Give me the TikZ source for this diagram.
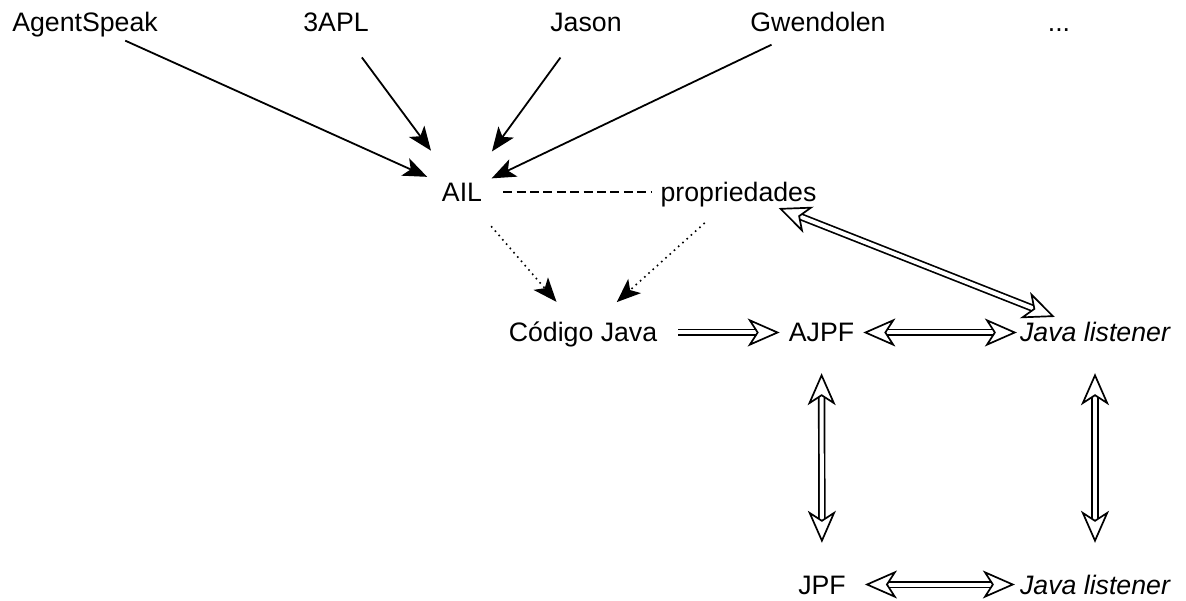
\documentclass[tikz,border=0pt]{standalone}
\usepackage{fontspec}
\setmainfont{Liberation Sans}
\usetikzlibrary{arrows.meta}

\tikzset{
  hollowtip/.tip={Stealth[length=32pt,width=28pt,inset=9pt,fill=white,line width=1.7pt]},
  blacktip/.tip={Stealth[length=24pt,width=19pt,inset=6pt]}
}

\begin{document}
\begin{tikzpicture}[x=1pt,y=-1pt,
  lbl/.style={inner sep=0pt,text height=19pt,text depth=0pt,anchor=base,
    font=\fontsize{26.7}{32}\selectfont},
  blk/.style={line width=1.8pt,-{blacktip}},
  dashln/.style={line width=2pt,dash pattern=on 9pt off 4.4pt},
  dotln/.style={line width=1.6pt,dash pattern=on 1.6pt off 4.1pt,-{blacktip[sep=0pt]}},
  dbl/.style={line width=1.7pt,double=white,double distance=4pt,-{hollowtip}},
  dblboth/.style={line width=1.7pt,double=white,double distance=4pt,{hollowtip}-{hollowtip}}
]
\useasboundingbox (0,0) rectangle (1186,601);

% source languages
\node[lbl] (agentspeak) at (85,32) {AgentSpeak};
\node[lbl] (threeapl)   at (336,32) {3APL};
\node[lbl] (jason)      at (586,32) {Jason};
\node[lbl] (gwendolen)  at (818,32) {Gwendolen};
\node[lbl] (more)       at (1059,32) {...};

% intermediate layer
\node[lbl] (ail)  at (462,202) {AIL};
\node[lbl] (prop) at (738.5,202) {propriedades};

% verification chain
\node[lbl] (code) at (583,342) {Código Java};
\node[lbl] (ajpf) at (821.5,342) {AJPF};
\node[lbl] (jlA)  at (1095,342) {\itshape Java listener};
\node[lbl] (jpf)  at (822,594) {JPF};
\node[lbl] (jlB)  at (1095,594) {\itshape Java listener};

% languages compiled to AIL
\draw[blk,shorten <=20.6pt,shorten >=16pt] (agentspeak) -- (ail);
\draw[blk,shorten <=31.4pt,shorten >=40pt] (threeapl) -- (ail);
\draw[blk,shorten <=31.4pt,shorten >=38.8pt] (jason) -- (ail);
\draw[blk,shorten <=29pt,shorten >=10.4pt] (gwendolen) -- (ail);

% AIL and properties
\draw[dashln,shorten <=21pt,shorten >=9pt] (ail) -- (prop);
\draw[dotln,shorten <=31.8pt,shorten >=27.7pt] (ail) -- (code);
\draw[dotln,shorten <=31pt,shorten >=30.9pt] (prop) -- (code);

% model checking links
\draw[dbl,shorten <=21pt,shorten >=9pt] (code) -- (ajpf);
\draw[dblboth,shorten <=9pt,shorten >=3pt] (ajpf) -- (jlA);
\draw[dblboth,shorten <=16pt,shorten >=16pt] (prop.-21) -- (jlA.159);
\draw[dblboth,shorten <=31pt,shorten >=32pt] (ajpf) -- (jpf);
\draw[dblboth,shorten <=31pt,shorten >=32pt] (jlA) -- (jlB);
\draw[dblboth,shorten <=19pt,shorten >=5pt] (jpf) -- (jlB);
\end{tikzpicture}
\end{document}
